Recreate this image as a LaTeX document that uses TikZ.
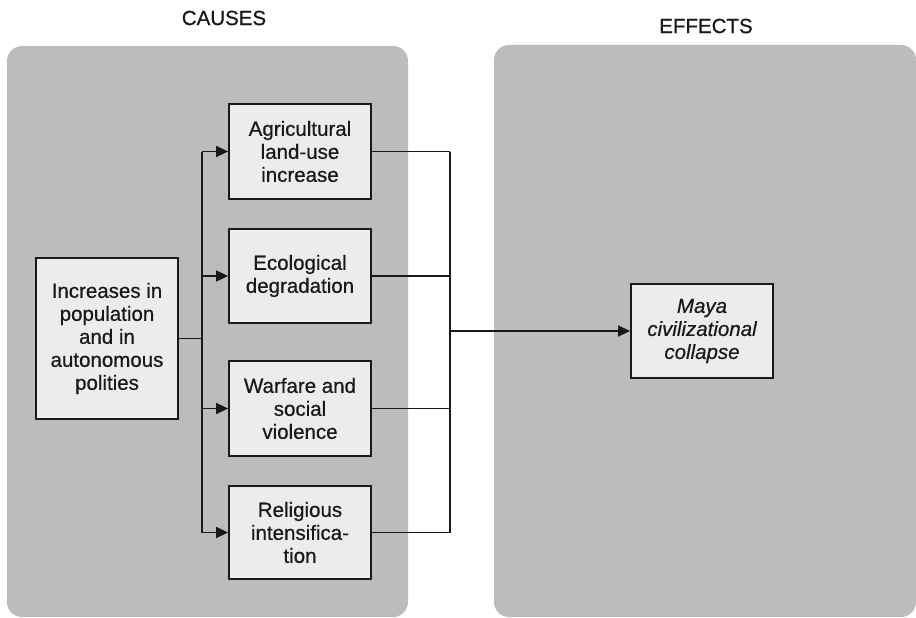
\documentclass[tikz,border=0pt]{standalone}
\usepackage{fontspec}
\setmainfont{Liberation Sans}[FakeBold=0.6]
\usetikzlibrary{arrows.meta}
\definecolor{panelgray}{RGB}{188,188,188}
\definecolor{boxgray}{RGB}{236,236,236}
\definecolor{linegray}{RGB}{25,25,25}
\tikzset{
  panel/.style={fill=panelgray, draw=none, rounded corners=15pt},
  causebox/.style={draw=linegray, line width=1.8pt, fill=boxgray, minimum width=142pt, align=center, inner sep=0pt,
    font=\fontsize{20.5}{23}\selectfont, text=linegray},
  conn/.style={draw=linegray, line width=1.5pt},
  arr/.style={conn, -{Triangle[length=12pt,width=11pt]}},
  title/.style={font=\fontsize{20.5}{23}\selectfont, text=linegray}
}
\begin{document}
\begin{tikzpicture}[x=1pt,y=-1pt]
\useasboundingbox (0,0) rectangle (916,618);
\fill[white] (0,0) rectangle (916,618);
\path[panel] (7,46) rectangle (408,617);
\path[panel] (494,45) rectangle (916,617);
\node[title] (causes) at (224,18) {CAUSES};
\node[title] (effects) at (706,26) {EFFECTS};

\node[causebox, minimum height=161pt] (inc) at (107,338.5) {Increases in\\population\\and in\\autonomous\\polities};
\node[causebox, minimum height=95pt] (agri) at (300,151.5) {Agricultural\\land-use\\increase};
\node[causebox, minimum height=94pt] (eco) at (300,276) {Ecological\\degradation};
\node[causebox, minimum height=95pt] (war) at (300,408.5) {Warfare and\\social\\violence};
\node[causebox, minimum height=93pt] (rel) at (300,532.5) {Religious\\intensifica-\\tion};
\node[causebox, minimum height=94pt, font=\fontsize{20.5}{23}\selectfont\itshape] (maya) at (702,331) {Maya\\civilizational\\collapse};

% trunk
\coordinate (tj) at (202,338.5);
\coordinate (ttop) at (202,151.5);
\coordinate (tbot) at (202,532.5);
\draw[conn] (inc.east) -- (tj);
\draw[conn] (ttop) -- (tbot);
\draw[arr] (ttop) -- (agri.west);
\draw[arr] (202,276) -- (eco.west);
\draw[arr] (202,408.5) -- (war.west);
\draw[arr] (tbot) -- (rel.west);

% collector
\coordinate (ctop) at (450,151.5);
\coordinate (cbot) at (450,532.5);
\draw[conn] (agri.east) -- (ctop);
\draw[conn] (eco.east) -- (450,276);
\draw[conn] (war.east) -- (450,408.5);
\draw[conn] (rel.east) -- (cbot);
\draw[conn] (ctop) -- (cbot);
\draw[arr] (450,331) -- (maya.west);
\end{tikzpicture}
\end{document}
